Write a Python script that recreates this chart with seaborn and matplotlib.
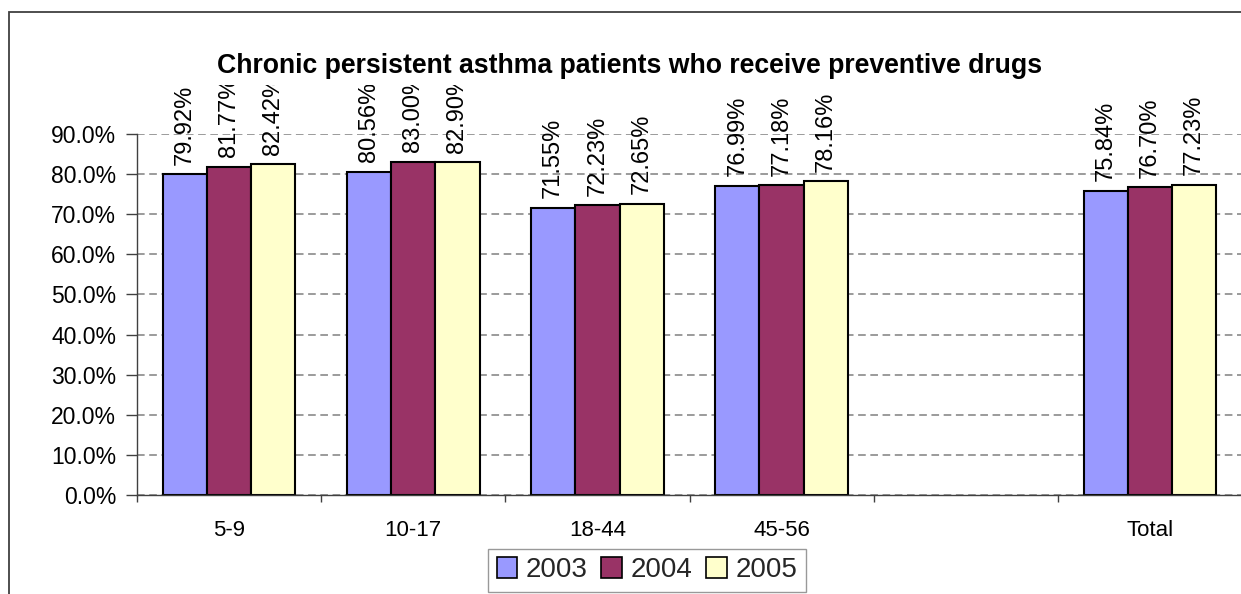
import numpy as np
import pandas as pd
import matplotlib
matplotlib.use("Agg")
import matplotlib.pyplot as plt
from matplotlib.patches import Patch, Rectangle
from matplotlib.transforms import Bbox, TransformedBbox
from matplotlib.ticker import FuncFormatter, MultipleLocator
import seaborn as sns

# ---- data -------------------------------------------------------------
categories = ["5-9", "10-17", "18-44", "45-56", " ", "Total"]
years = ["2003", "2004", "2005"]
groups_with_data = ["5-9", "10-17", "18-44", "45-56", "Total"]
pct_2003 = [79.92, 80.56, 71.55, 76.99, 75.84]
pct_2004 = [81.77, 83.00, 72.23, 77.18, 76.70]
pct_2005 = [82.42, 82.90, 72.65, 78.16, 77.23]
tick_labels = ["5-9", "10-17", "18-44", "45-56", "", "Total"]
title = "Chronic persistent asthma patients who receive preventive drugs"

colors = {"2003": "#9999FF", "2004": "#993366", "2005": "#FFFFCC"}

rows = []
for yr, vals in zip(years, [pct_2003, pct_2004, pct_2005]):
    for g, v in zip(groups_with_data, vals):
        rows.append({"group": g, "year": yr, "pct": v})
df = pd.DataFrame(rows)

# ---- figure -------------------------------------------------------------
sns.set_theme(style="white")
plt.rcParams["font.family"] = ["Liberation Sans", "DejaVu Sans"]

W, H = 1241, 594
fig = plt.figure(figsize=(W / 100, H / 100), dpi=100)
fig.patch.set_facecolor("white")

# chart-area frame
fig.add_artist(Rectangle((9 / W, -0.1), 1.2, 1 - 12 / H + 0.1,
                         transform=fig.transFigure, fill=False,
                         edgecolor="#404040", linewidth=1.3))

ax = fig.add_axes([137 / W, 99 / H, 1105 / W, 361 / H])
ax.set_facecolor("white")

sns.barplot(data=df, x="group", y="pct", hue="year", order=categories,
            hue_order=years, palette=colors, width=0.72, gap=0,
            edgecolor="black", linewidth=1.5, saturation=1,
            errorbar=None, legend=False, ax=ax)

ax.set_xlim(-0.5, len(categories) - 0.5)
ax.set_ylim(0, 90)
ax.yaxis.set_major_locator(MultipleLocator(10))
ax.yaxis.set_major_formatter(FuncFormatter(lambda v, _: f"{v:.1f}%"))
ax.set_xlabel("")
ax.set_ylabel("")
ax.set_xticks(range(len(categories)))
ax.set_xticklabels(tick_labels)
ax.set_xticks(np.arange(-0.5, len(categories), 1.0), minor=True)

ax.tick_params(axis="y", which="major", left=True, length=8, width=1,
               color="#404040", pad=7, labelsize=16.5, labelcolor="black")
ax.tick_params(axis="x", which="major", bottom=False, length=0, pad=18,
               labelsize=16, labelcolor="black")
ax.tick_params(axis="x", which="minor", bottom=True, length=5, width=1,
               color="#404040")

# dashed horizontal gridlines
ax.yaxis.grid(True, color="#808080", linewidth=1.1, linestyle=(0, (5, 3)))
ax.xaxis.grid(False)
ax.set_axisbelow(True)

for side in ["top", "right"]:
    ax.spines[side].set_visible(False)
for side in ["left", "bottom"]:
    ax.spines[side].set_color("#404040")
    ax.spines[side].set_linewidth(1.0)

# value labels, clipped just below the title
label_clip = TransformedBbox(Bbox.from_extents(0, 0, 1, 1 - 85 / H),
                             fig.transFigure)
for cont in ax.containers:
    texts = ax.bar_label(cont, fmt=lambda v: f"{v:.2f}%", rotation=90,
                         padding=7, fontsize=17, color="black")
    for t in texts:
        t.set_clip_box(label_clip)
        t.set_clip_on(True)

fig.text(629.5 / W, 1 - 72.7 / H, title, ha="center", va="baseline",
         fontsize=19.2, fontweight="bold", color="black")

handles = [Patch(facecolor=colors[y], edgecolor="black", linewidth=1.2)
           for y in years]
leg = fig.legend(handles, years, loc="upper center", ncol=3,
                 bbox_to_anchor=(647 / W, 1 - 549 / H), fontsize=20,
                 frameon=True, fancybox=False, shadow=False,
                 handlelength=0.75, handleheight=0.75, handletextpad=0.3,
                 columnspacing=0.5, borderpad=0.3, borderaxespad=0)
leg.get_frame().set_edgecolor("#808080")
leg.get_frame().set_linewidth(1.0)

fig.savefig("out.png", dpi=100)
